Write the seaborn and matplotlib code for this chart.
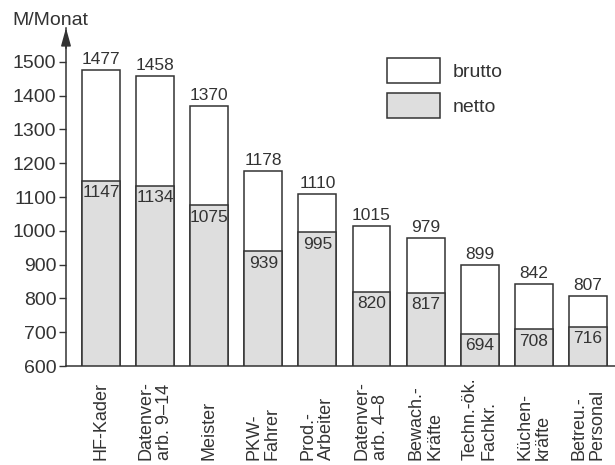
import matplotlib
matplotlib.use("Agg")
import matplotlib.pyplot as plt
import seaborn as sns
import pandas as pd
from matplotlib.patches import Patch

categories = ["HF-Kader", "Datenver-\narb. 9–14", "Meister", "PKW-\nFahrer",
              "Prod.-\nArbeiter", "Datenver-\narb. 4–8", "Bewach.-\nKräfte",
              "Techn.-ök.\nFachkr.", "Küchen-\nkräfte", "Betreu.-\nPersonal"]
brutto = [1477, 1458, 1370, 1178, 1110, 1015, 979, 899, 842, 807]
netto = [1147, 1134, 1075, 939, 995, 820, 817, 694, 708, 716]
yticks = [600, 700, 800, 900, 1000, 1100, 1200, 1300, 1400, 1500]
ylabel = "M/Monat"
legend_labels = ["brutto", "netto"]

df = pd.DataFrame({"Beruf": categories, "brutto": brutto, "netto": netto})

sns.set_theme(style="white")
plt.rcParams["font.family"] = ["Liberation Sans", "DejaVu Sans"]

ink = "#333333"
gray = "#dedede"
fs = 13
fs_big = 14

fig = plt.figure(figsize=(6.15, 4.65), dpi=100)
ax = fig.add_axes([66/615, 99/465, 549/615, 338/465])

sns.barplot(data=df, x="Beruf", y="brutto", color="white", edgecolor=ink,
            linewidth=1.1, width=0.7, saturation=1, ax=ax)
sns.barplot(data=df, x="Beruf", y="netto", color=gray, edgecolor=ink,
            linewidth=1.1, width=0.7, saturation=1, ax=ax)

ax.set_ylim(600, 1600)
ax.set_xlim(-0.647, 9.5)
ax.set_yticks(yticks)
ax.set_yticklabels([str(v) for v in yticks], fontsize=fs_big, color=ink)
ax.set_xlabel("")
ax.set_ylabel("")

ax.set_xticks(range(len(categories)))
ax.set_xticklabels(categories, rotation=90, fontsize=fs, color=ink,
                   va="bottom", ha="center", multialignment="left",
                   linespacing=1.1)
ax.tick_params(axis="x", length=0, pad=68)
ax.tick_params(axis="y", length=5, width=1, color=ink, pad=2, direction="out",
               left=True)

for s in ["top", "right"]:
    ax.spines[s].set_visible(False)
for s in ["left", "bottom"]:
    ax.spines[s].set_color(ink)
    ax.spines[s].set_linewidth(1.1)

# arrow on y axis
ax.annotate("", xy=(0, 1.0), xytext=(0, 0.94), xycoords="axes fraction",
            arrowprops=dict(arrowstyle="-|>,head_length=0.9,head_width=0.25",
                            color=ink, lw=1.1, shrinkA=0, shrinkB=0),
            annotation_clip=False)

for i, (b, n) in enumerate(zip(brutto, netto)):
    ax.annotate(str(b), (i, b), xytext=(0, 2), textcoords="offset points",
                ha="center", va="bottom", fontsize=12.5, color=ink)
    ax.annotate(str(n), (i, n), xytext=(0, -3), textcoords="offset points",
                ha="center", va="top", fontsize=12.5, color=ink)

fig.text(12/615, 1 - 25/465, ylabel, fontsize=fs_big, color=ink,
         va="baseline", ha="left")

handles = [Patch(facecolor="white", edgecolor=ink, linewidth=1.1),
           Patch(facecolor=gray, edgecolor=ink, linewidth=1.1)]
ax.legend(handles, legend_labels, loc="upper left",
          bbox_to_anchor=(387/615, 1 - 58/465), bbox_transform=fig.transFigure,
          frameon=False, fontsize=fs_big, handlelength=2.73, handleheight=1.6,
          labelspacing=0.5, handletextpad=0.67, borderpad=0, borderaxespad=0,
          labelcolor=ink)

fig.savefig("out.png", dpi=100)
